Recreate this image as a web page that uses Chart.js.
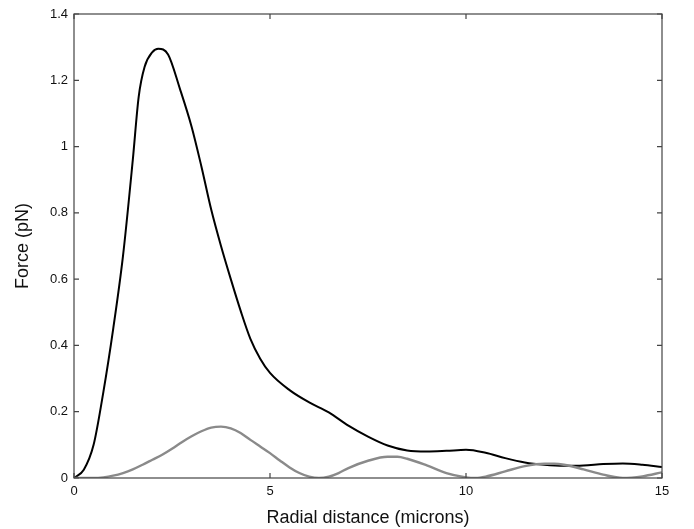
<!DOCTYPE html>
<html>
<head>
<meta charset="utf-8">
<script src="https://cdn.jsdelivr.net/npm/chart.js@4/dist/chart.umd.min.js"></script>
<style>
html,body{margin:0;padding:0;background:#fff;}
#wrap{width:694px;height:529px;position:relative;}
</style>
</head>
<body>
<div id="wrap"><canvas id="c" width="694" height="529"></canvas></div>
<script>
// Radial distance (microns) samples and forces (pN)
const totalX = [0,0.25,0.5,0.75,1.0,1.25,1.5,1.65,1.8,2.0,2.15,2.4,2.7,3.0,3.25,3.5,3.75,4.0,4.25,4.5,4.75,5.0,5.5,6.0,6.5,7.0,7.5,8.0,8.5,9.0,9.5,10.0,10.5,11.0,11.5,12.0,12.5,13.0,13.5,14.0,14.5,15.0];
const totalY = [0,0.025,0.10,0.26,0.45,0.67,0.96,1.15,1.24,1.285,1.295,1.278,1.175,1.06,0.94,0.81,0.70,0.60,0.505,0.42,0.36,0.317,0.265,0.228,0.198,0.158,0.125,0.098,0.083,0.080,0.082,0.085,0.076,0.060,0.047,0.040,0.037,0.038,0.042,0.044,0.040,0.033];
const compX = [0,0.5,0.75,1.0,1.25,1.5,1.75,2.0,2.25,2.5,2.75,3.0,3.25,3.5,3.75,4.0,4.25,4.5,4.75,5.0,5.25,5.5,5.75,6.0,6.25,6.5,6.75,7.0,7.5,8.0,8.25,8.5,9.0,9.5,10.0,10.25,10.5,11.0,11.5,12.0,12.25,12.5,13.0,13.5,14.0,14.5,15.0];
const compY = [0,0,0.002,0.007,0.015,0.026,0.040,0.055,0.070,0.088,0.108,0.126,0.141,0.152,0.155,0.150,0.136,0.115,0.095,0.075,0.053,0.032,0.015,0.004,0,0.004,0.015,0.030,0.052,0.064,0.064,0.058,0.038,0.015,0.002,0,0.004,0.020,0.036,0.043,0.043,0.040,0.026,0.010,0,0.005,0.017];
const xTicks = [0,5,10,15];
const yTicks = [0,0.2,0.4,0.6,0.8,1,1.2,1.4];
const xTitle = 'Radial distance (microns)';
const yTitle = 'Force (pN)';

const toPts = (xs, ys) => xs.map((x, i) => ({x: x, y: ys[i]}));

const frameTicks = {
  id: 'frameTicks',
  afterDatasetsDraw(chart) {
    const ctx = chart.ctx, a = chart.chartArea;
    const xs = chart.scales.x, ys = chart.scales.y;
    ctx.save();
    ctx.strokeStyle = '#444';
    ctx.lineWidth = 1.2;
    ctx.strokeRect(a.left, a.top, a.right - a.left, a.bottom - a.top);
    const L = 5;
    ctx.beginPath();
    xTicks.forEach(v => {
      const p = xs.getPixelForValue(v);
      ctx.moveTo(p, a.bottom); ctx.lineTo(p, a.bottom - L);
      ctx.moveTo(p, a.top); ctx.lineTo(p, a.top + L);
    });
    yTicks.forEach(v => {
      const p = ys.getPixelForValue(v);
      ctx.moveTo(a.left, p); ctx.lineTo(a.left + L, p);
      ctx.moveTo(a.right, p); ctx.lineTo(a.right - L, p);
    });
    ctx.stroke();
    ctx.restore();
  }
};

const FONT = 'Liberation Sans, Arial, sans-serif';

new Chart(document.getElementById('c'), {
  type: 'line',
  data: {
    datasets: [
      {data: toPts(compX, compY), borderColor: '#8a8a8a', borderWidth: 2.4, pointRadius: 0, cubicInterpolationMode: 'monotone', fill: false},
      {data: toPts(totalX, totalY), borderColor: '#000', borderWidth: 2, pointRadius: 0, cubicInterpolationMode: 'monotone', fill: false}
    ]
  },
  options: {
    responsive: false,
    animation: false,
    devicePixelRatio: 1,
    layout: {padding: {left: 0, right: 32, top: 14, bottom: 0}},
    plugins: {legend: {display: false}, tooltip: {enabled: false}},
    scales: {
      x: {
        type: 'linear', min: 0, max: 15,
        afterBuildTicks: s => { s.ticks = xTicks.map(v => ({value: v})); },
        afterFit: s => { s.height = 51; },
        grid: {display: false, drawTicks: false},
        border: {display: false},
        ticks: {color: '#111', font: {family: FONT, size: 13}, padding: 6, maxRotation: 0, callback: v => String(v)},
        title: {display: true, text: xTitle, color: '#111', font: {family: FONT, size: 18}, padding: {top: 6, bottom: 0}}
      },
      y: {
        type: 'linear', min: 0, max: 1.4,
        afterBuildTicks: s => { s.ticks = yTicks.map(v => ({value: v})); },
        afterFit: s => { s.width = 74; },
        grid: {display: false, drawTicks: false},
        border: {display: false},
        ticks: {color: '#111', font: {family: FONT, size: 13}, padding: 6, callback: v => String(parseFloat(v.toFixed(1)))},
        title: {display: true, text: yTitle, color: '#111', font: {family: FONT, size: 18}, padding: {top: 12, bottom: 0}}
      }
    }
  },
  plugins: [frameTicks]
});
</script>
</body>
</html>
